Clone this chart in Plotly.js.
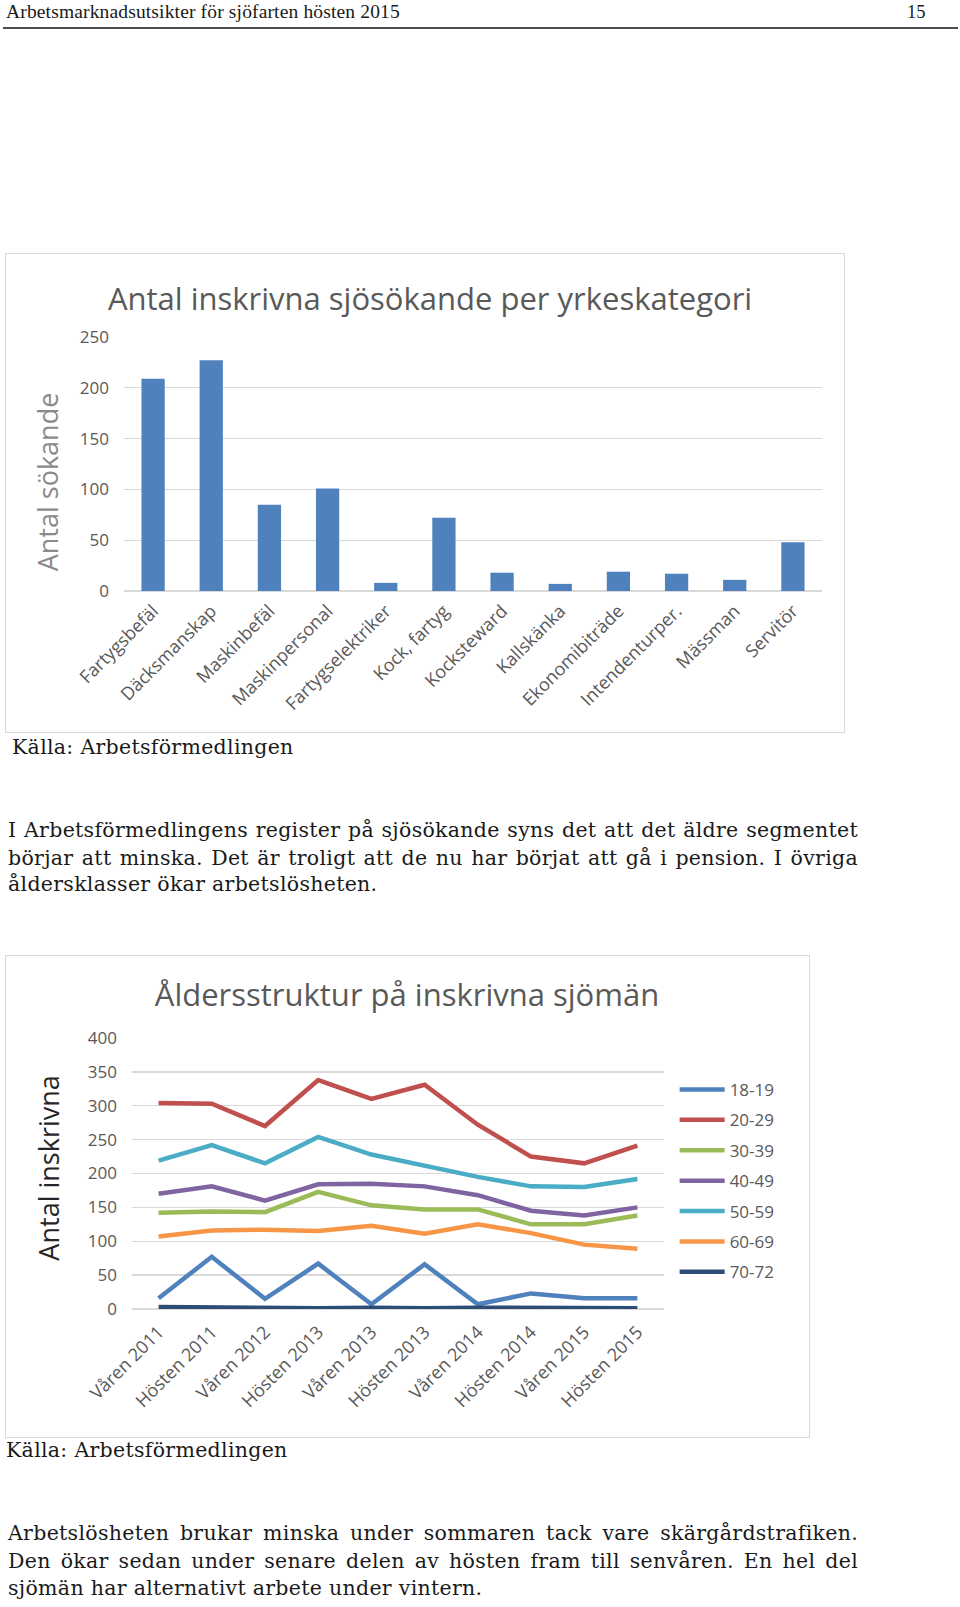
<!DOCTYPE html>
<html><head><meta charset="utf-8">
<script src="https://cdn.plot.ly/plotly-3.0.1.min.js"></script>
<style>
body{margin:0;background:#fff;width:960px;height:1607px;position:relative;overflow:hidden;}
.t{position:absolute;font-family:"DejaVu Serif";font-size:20.5px;letter-spacing:0.3px;line-height:27px;color:#1a1a1a;white-space:nowrap;left:8px;}
.j{text-align:justify;text-align-last:justify;width:850px;}
.frame{position:absolute;border:1px solid #d9d9d9;box-sizing:border-box;}
.plot{position:absolute;}
</style></head>
<body>
<div class="t" style="left:6px;top:-2px;font-family:'Liberation Serif';font-size:19.5px;letter-spacing:0.15px;">Arbetsmarknadsutsikter för sjöfarten hösten 2015</div>
<div class="t" style="left:907px;top:-1px;font-family:'Liberation Serif';font-size:18.5px;letter-spacing:0;">15</div>
<div style="position:absolute;left:3px;top:27px;width:955px;height:2px;background:#4d4d4d;"></div>

<div class="frame" style="left:5px;top:253px;width:840px;height:480px;"></div>
<div id="c1" class="plot" style="left:5px;top:253px;width:839px;height:479px;"></div>
<div class="t" style="left:12px;top:734px;">Källa: Arbetsförmedlingen</div>

<div class="t j" style="top:817px;">I Arbetsförmedlingens register på sjösökande syns det att det äldre segmentet</div>
<div class="t j" style="top:845px;">börjar att minska. Det är troligt att de nu har börjat att gå i pension. I övriga</div>
<div class="t" style="top:871px;">åldersklasser ökar arbetslösheten.</div>

<div class="frame" style="left:5px;top:955px;width:805px;height:483px;"></div>
<div id="c2" class="plot" style="left:5px;top:955px;width:804px;height:482px;"></div>
<div class="t" style="left:6px;top:1437px;">Källa: Arbetsförmedlingen</div>

<div class="t j" style="top:1520px;">Arbetslösheten brukar minska under sommaren tack vare skärgårdstrafiken.</div>
<div class="t j" style="top:1548px;">Den ökar sedan under senare delen av hösten fram till senvåren. En hel del</div>
<div class="t" style="top:1575px;">sjömän har alternativt arbete under vintern.</div>

<script>
// ---- Chart 1 data ----
const categories = ["Fartygsbefäl","Däcksmanskap","Maskinbefäl","Maskinpersonal","Fartygselektriker","Kock, fartyg","Kocksteward","Kallskänka","Ekonomibiträde","Intendenturper.","Mässman","Servitör"];
const applicants = [209,227,85,101,8,72,18,7,19,17,11,48];

// ---- Chart 2 data ----
const periods = ["Våren 2011","Hösten 2011","Våren 2012","Hösten 2013","Våren 2013","Hösten 2013","Våren 2014","Hösten 2014","Våren 2015","Hösten 2015"];
const ageGroups = ["18-19","20-29","30-39","40-49","50-59","60-69","70-72"];
const s18_19 = [16,77,15,67,7,66,7,23,16,16];
const s20_29 = [304,303,270,338,310,331,272,225,215,241];
const s30_39 = [142,144,143,173,153,147,147,125,125,138];
const s40_49 = [170,181,160,184,185,181,168,145,138,150];
const s50_59 = [219,242,215,254,228,212,195,181,180,192];
const s60_69 = [107,116,117,115,123,111,125,112,95,89];
const s70_72 = [3,2,1,1,2,1,2,2,1,1];

const FONT = "Open Sans";
const TICK = "#595959";
const GRID = "#d9d9d9";

Plotly.newPlot("c1", [{
  type: "bar", x: categories, y: applicants,
  marker: {color: "#4F81BD"}, hoverinfo: "x+y"
}], {
  width: 839, height: 479,
  margin: {l:119, r:22, t:84, b:141},
  paper_bgcolor: "rgba(0,0,0,0)", plot_bgcolor: "rgba(0,0,0,0)",
  bargap: 0.6,
  showlegend: false,
  font: {family: FONT, color: TICK},
  title: {text: "Antal inskrivna sjösökande per yrkeskategori", x: 0.5066, xref: "container", xanchor: "center",
          y: 0.904, yref: "container", yanchor: "middle", font: {family: FONT, size: 31, color: "#595959"}},
  xaxis: {type: "category", tickangle: -45, tickfont: {size: 18, color: TICK}, showgrid: false, zeroline: false, showline: false, ticks: "", ticklabelstandoff: 5},
  yaxis: {range: [0, 250], dtick: 50, tickfont: {size: 17, color: TICK}, gridcolor: GRID, gridwidth: 1.3,
          zeroline: true, zerolinecolor: GRID, zerolinewidth: 1.3, showline: false, ticks: "", ticklabelstandoff: 14},
  annotations: [{text: "Antal sökande", xref: "paper", yref: "paper", x: -0.1103, y: 0.428, xanchor: "center", yanchor: "middle",
                 textangle: -90, showarrow: false, font: {family: FONT, size: 27, color: "#8a8a8a"}}]
}, {staticPlot: true});

const seriesValues = [s18_19, s20_29, s30_39, s40_49, s50_59, s60_69, s70_72];
const colors = ["#4F81BD","#C0504D","#9BBB59","#8064A2","#4BACC6","#F79646","#2C4D75"];
const idx = periods.map((_, i) => i);
const traces = ageGroups.map((g, k) => ({
  type: "scatter", mode: "lines", name: g, x: idx, y: seriesValues[k],
  legendgroup: g,
  line: {color: colors[k], width: 4.5}
}));

Plotly.newPlot("c2", traces, {
  width: 804, height: 482,
  margin: {l:127, r:145, t:83, b:128},
  paper_bgcolor: "rgba(0,0,0,0)", plot_bgcolor: "rgba(0,0,0,0)",
  font: {family: FONT, color: TICK},
  title: {text: "Åldersstruktur på inskrivna sjömän", x: 0.5, xref: "container", xanchor: "center",
          y: 0.917, yref: "container", yanchor: "middle", font: {family: FONT, size: 31, color: "#595959"}},
  xaxis: {range: [-0.5, 9.5], tickvals: idx, ticktext: periods, tickangle: -45, tickfont: {size: 18, color: TICK},
          showgrid: false, zeroline: false, showline: false, ticks: "", ticklabelstandoff: 8},
  yaxis: {range: [0, 400], dtick: 50, tickfont: {size: 17, color: TICK}, gridcolor: GRID, gridwidth: 1.3,
          zeroline: true, zerolinecolor: GRID, zerolinewidth: 1.3, showline: false, ticks: "", ticklabelstandoff: 14},
  showlegend: true,
  legend: {x: 1.02, xanchor: "left", y: 0.875, yanchor: "top", font: {size: 17, color: TICK},
           tracegroupgap: 5.3, traceorder: "grouped", itemwidth: 45, bgcolor: "rgba(0,0,0,0)"},
  annotations: [{text: "Antal inskrivna", xref: "paper", yref: "paper", x: -0.156, y: 0.518, xanchor: "center", yanchor: "middle",
                 textangle: -90, showarrow: false, font: {family: FONT, size: 27, color: "#262626"}}]
}, {staticPlot: true});
</script>
</body></html>
